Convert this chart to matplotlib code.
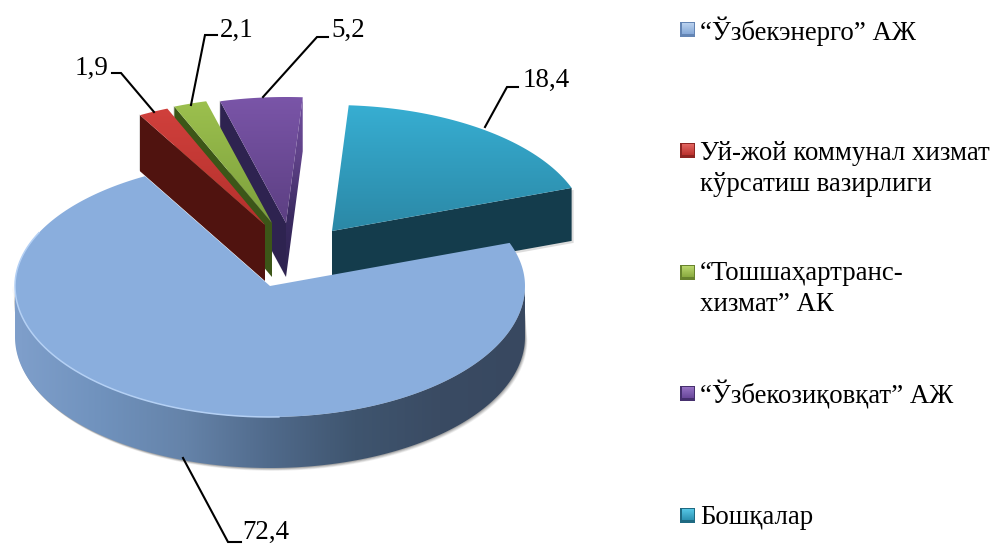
import matplotlib
matplotlib.use('Agg')
import matplotlib.pyplot as plt
from matplotlib.colors import LinearSegmentedColormap
from matplotlib.patches import Polygon
import numpy as np

plt.rcParams['font.family'] = ['Liberation Serif', 'DejaVu Serif']

# Data
categories = ['“Ўзбекэнерго” АЖ', 'Уй-жой коммунал хизмат\nкўрсатиш вазирлиги',
              '“Тошшаҳартранс-\nхизмат” АК', '“Ўзбекозиқовқат” АЖ', 'Бошқалар']
values = [72.4, 1.9, 2.1, 5.2, 18.4]

# Colours: top of slice (light, dark), radial wall
top_colors = [('#8aaedd', '#88acda'), ('#d0403c', '#b5302c'), ('#9cc04e', '#7c9f3c'),
              ('#7a55a8', '#5c3f82'), ('#37aed2', '#2b88a6')]
wall_colors = ['#5f7da2', '#50130f', '#3c5618', '#2e2350', '#143c4c']

# Layout in pixels
center = (270, 286)
explode_x = [0, -5, 2, 16, 62]
explode_y = [0, -61, -63, -63, -55]
rx, ry_up, ry_low = 255, 126, 131
depths = [51, 56, 54, 54, 53]
start_angle = 20
legend_y = [29, 150, 272, 393, 515]
legend_line_y = [31, 169, 289, 395, 517]
leaders = [[(183, 458), (228, 542), (241, 542)],
           [(154, 112), (121, 73), (112, 73)],
           [(191, 105), (205, 35), (217, 35)],
           [(263, 97), (317, 37), (328, 37)],
           [(485, 127), (507, 87), (518, 87)]]
label_pos = [(266, 532), (92, 68), (237, 30), (348, 30), (546, 80)]
font_size = 19.4


def arc(cx, cy, a0, a1, n=200):
    t = np.radians(np.linspace(a0, a1, n))
    s = np.sin(t)
    return np.column_stack([cx + rx * np.cos(t),
                            cy - np.where(s > 0, ry_up, ry_low) * s])


def grad_fill(ax, pts, colors, horizontal=False, zorder=2):
    # gradient image clipped to a polygon
    cmap = LinearSegmentedColormap.from_list('g', colors)
    g = np.linspace(0, 1, 256)
    g = g.reshape(1, -1) if horizontal else g.reshape(-1, 1)
    x0, y0 = pts.min(axis=0)
    x1, y1 = pts.max(axis=0)
    im = ax.imshow(g, cmap=cmap, extent=(x0, x1, y1, y0), origin='upper',
                   aspect='auto', zorder=zorder, interpolation='bilinear')
    clip = Polygon(pts, closed=True, transform=ax.transData)
    im.set_clip_path(clip)


fig = plt.figure(figsize=(9.93, 5.45), dpi=100)
ax = fig.add_axes([0, 0, 1, 1])

# slice angles, clockwise from start_angle
bounds = start_angle - np.cumsum([0] + values) / sum(values) * 360
apex = [(center[0] + dx, center[1] + dy) for dx, dy in zip(explode_x, explode_y)]

# small back slices, drawn from the back to the front
for i, z in zip([4, 3, 2, 1], [3, 4, 5, 6]):
    # the slices run clockwise so bounds[i] is the larger angle (left edge)
    a_left, a_right = bounds[i], bounds[i + 1]
    cx, cy = apex[i]
    outer = arc(cx, cy, a_left, a_right, 60)
    p_left, p_right = outer[0], outer[-1]
    d = np.array([0, depths[i]])
    a = np.array(apex[i], dtype=float)

    if i == 4:
        # teal shows the wall under its lower radial edge
        face = np.array([a, p_right, p_right + d, a + d])
        ax.add_patch(Polygon(face + [2, 2], closed=True, fc='#bbbbbb', ec='none',
                             alpha=0.5, zorder=z - 0.5))
        ax.add_patch(Polygon(face, closed=True, fc=wall_colors[i], ec='none', zorder=z))
    else:
        if i == 3:
            # lighter right wall of the purple slice
            face = np.array([a, p_right, p_right + d, a + d])
            grad_fill(ax, face, ['#6f4d9c', '#5f4288', '#3a2a60', '#2e2350'], zorder=z)
        face = np.array([a, p_left, p_left + d, a + d])
        ax.add_patch(Polygon(face + [-1, -1], closed=True, fc='#c4c4c4', ec='none',
                             alpha=0.5, zorder=z - 0.1))
        ax.add_patch(Polygon(face, closed=True, fc=wall_colors[i], ec='none', zorder=z))

    top = np.vstack([a, outer])
    grad_fill(ax, top, top_colors[i], zorder=z + 0.5)

# main slice wall with its soft shadow
cx, cy = apex[0]
upper = arc(cx, cy, -180, 0)
lower = upper + [0, depths[0]]
for grow, alpha in zip([4, 3, 2, 1], [0.10, 0.14, 0.18, 0.25]):
    ax.fill(np.r_[upper[:, 0] - grow * 0.6, lower[::-1, 0] + grow * 0.6],
            np.r_[upper[:, 1], lower[::-1, 1] + grow * 0.7],
            color='#555555', alpha=alpha, lw=0, zorder=7)
wall = np.vstack([upper, lower[::-1]])
grad_fill(ax, wall, ['#7f9fcb', '#7092bd', '#6583a9', '#506a8b', '#3f556f', '#3a4b63', '#384860'],
          horizontal=True, zorder=8)

# main slice top
outer = arc(cx, cy, bounds[0], bounds[1], 400)
top = np.vstack([[apex[0]], outer])
ax.add_patch(Polygon(top, closed=True, fc=top_colors[0][0], ec='none', zorder=9))
front = arc(cx, cy, -205, -88, 200)
ax.plot(front[:, 0], front[:, 1], color='#b4d0f4', lw=1.1, zorder=10)

# value labels with leader lines
for val, line, pos in zip(values, leaders, label_pos):
    xs, ys = zip(*line)
    ax.plot(xs, ys, color='black', lw=1.5, zorder=11, solid_joinstyle='miter')
    ax.text(pos[0], pos[1], f'{val}'.replace('.', ','), fontsize=font_size, ha='center',
            va='center', color='black', zorder=12)

# legend
marker_cols = [('#c0d6f0', '#86a9d8'), ('#e66a66', '#bb322e'), ('#bfdc72', '#8aaa40'),
               ('#9a76c8', '#6a489a'), ('#5accea', '#2c92b2')]
marker_edge = ['#6485b4', '#8e2522', '#68832e', '#46306e', '#1f6a82']
for name, my, ty, cols, edge in zip(categories, legend_y, legend_line_y, marker_cols, marker_edge):
    sq = np.array([[680, my - 7.5], [695, my - 7.5], [695, my + 7.5], [680, my + 7.5]])
    ax.add_patch(Polygon(sq, closed=True, fc=edge, ec='none', zorder=3))
    inner = sq + np.array([[1.5, 1], [-1.5, 1], [-1.5, -2.5], [1.5, -2.5]])
    grad_fill(ax, inner, cols, zorder=4)
    ax.text(700, ty, name, fontsize=font_size, ha='left', va='center', color='black',
            linespacing=1.3)

ax.set_xlim(0, 993)
ax.set_ylim(545, 0)
ax.axis('off')
fig.savefig('out.png', dpi=100)
